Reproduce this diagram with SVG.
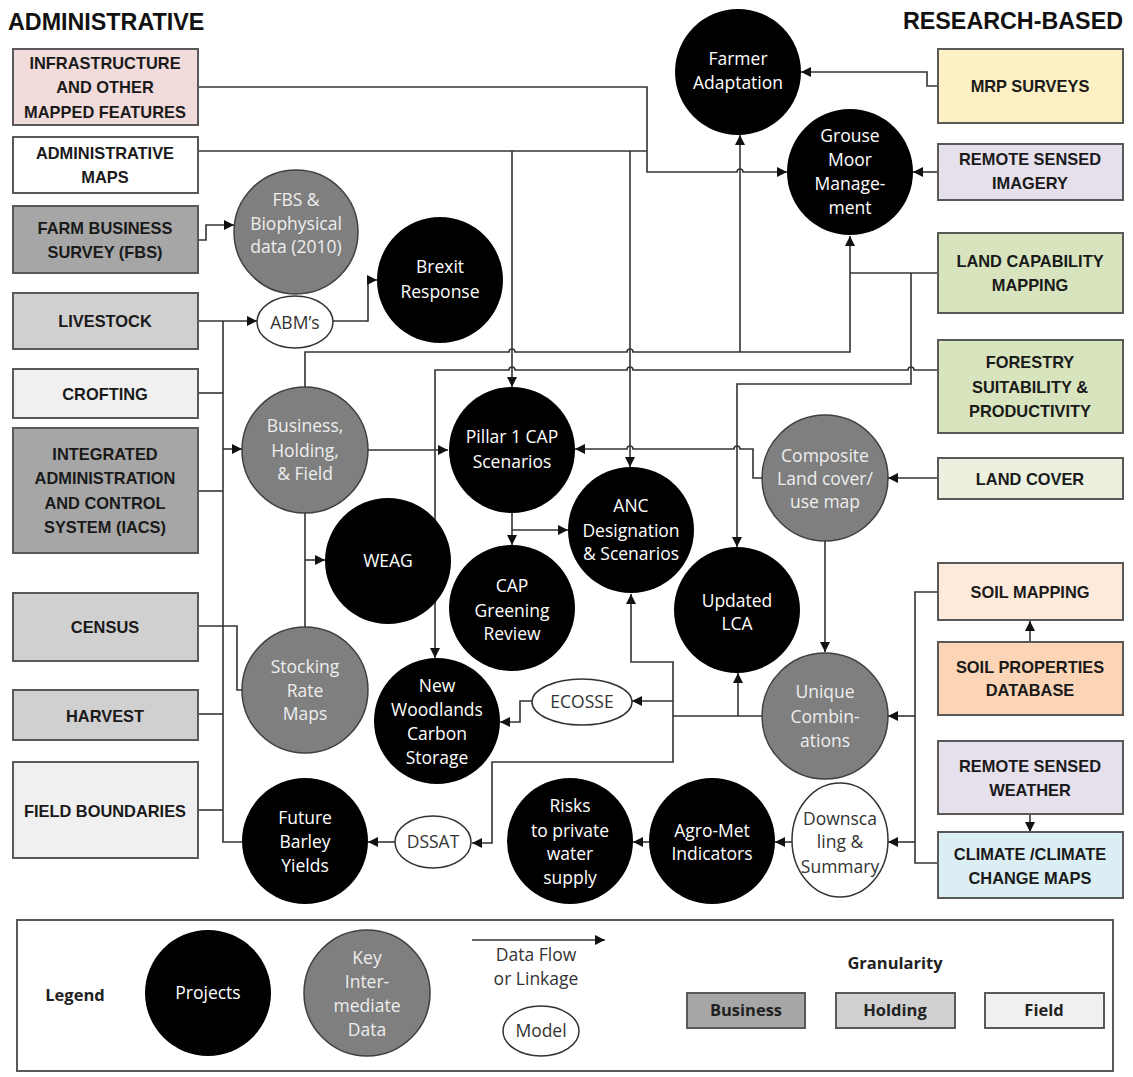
<svg xmlns="http://www.w3.org/2000/svg" width="1133" height="1077" viewBox="0 0 1133 1077">
<defs>
<style>
.bx{stroke:#595959;stroke-width:2}
.bt{font-family:"Liberation Sans",Arial,sans-serif;font-weight:bold;font-size:16.4px;fill:#1a1a1a;text-anchor:middle}
.hd{font-family:"Liberation Sans",Arial,sans-serif;font-weight:bold;font-size:23.3px;fill:#111}
.ct{font-family:"Open Sans",sans-serif;font-size:17.5px;fill:#fff;text-anchor:middle}
.gt{font-family:"Open Sans",sans-serif;font-size:17.5px;fill:#eeeeee;text-anchor:middle}
.mt{font-family:"Open Sans",sans-serif;font-size:17.5px;fill:#333;text-anchor:middle}
.lt{font-family:"Open Sans",sans-serif;font-size:16.5px;font-weight:bold;fill:#222;text-anchor:middle}
.proj{fill:#000}
.key{fill:#7f7f7f;stroke:#3f3f3f;stroke-width:1.5}
.model{fill:#fff;stroke:#333;stroke-width:1.5}
.ln{fill:none;stroke:#333;stroke-width:1.6}
.ar{marker-end:url(#ah)}
</style>
<marker id="ah" viewBox="0 0 10 10" refX="10" refY="5" markerWidth="10" markerHeight="10" orient="auto" markerUnits="userSpaceOnUse"><path d="M0,0 L10,5 L0,10 z" fill="#111"/></marker>
</defs>
<rect width="1133" height="1077" fill="#fff"/>

<text class="hd" x="8" y="30">ADMINISTRATIVE</text>
<text class="hd" x="1123" y="29" text-anchor="end">RESEARCH-BASED</text>

<!-- connectors -->
<g id="connectors">
<path class="ln ar" d="M198,87 H647 V172 H737 a3,3 0 0 1 6,0 H787"/>
<path class="ln" d="M198,151 H647"/>
<path class="ln ar" d="M512,151 V387"/>
<path class="ln ar" d="M630,151 V467"/>
<path class="ln ar" d="M198,240 H206 V225 H234"/>
<path class="ln ar" d="M198,321 H257"/>
<path class="ln" d="M223,321 V842 H242"/>
<path class="ln" d="M198,393 H223"/>
<path class="ln" d="M198,491 H223"/>
<path class="ln" d="M198,626 H237 V690 H243"/>
<path class="ln" d="M198,714 H223"/>
<path class="ln" d="M198,810 H223"/>
<path class="ln ar" d="M223,449 H242"/>
<path class="ln ar" d="M333,321 H368 V280 H377"/>
<path class="ln ar" d="M305,387 V352 H509 a3,3 0 0 1 6,0 H627 a3,3 0 0 1 6,0 H850 V236"/>
<path class="ln ar" d="M740,352 V135"/>
<path class="ln" d="M938,273 H850"/>
<path class="ln ar" d="M911,273 V384 H737 V547"/>
<path class="ln ar" d="M938,370 H914 a3,3 0 0 0 -6,0 H633 a3,3 0 0 0 -6,0 H515 a3,3 0 0 0 -6,0 H435 V658"/>
<path class="ln ar" d="M368,450 H448"/>
<path class="ln" d="M305,513 V627"/>
<path class="ln ar" d="M305,560 H325"/>
<path class="ln ar" d="M512,513 V545"/>
<path class="ln ar" d="M512,530 H568"/>
<path class="ln ar" d="M762,478 H753 V449 H740 a3,3 0 0 0 -6,0 H633 a3,3 0 0 0 -6,0 H575"/>
<path class="ln ar" d="M938,478 H888"/>
<path class="ln ar" d="M825,541 V652"/>
<path class="ln" d="M938,592 H915 V863 H938"/>
<path class="ln ar" d="M915,716 H888"/>
<path class="ln ar" d="M915,842 H888"/>
<path class="ln ar" d="M1030,642 V621"/>
<path class="ln ar" d="M1030,814 V832"/>
<path class="ln" d="M762,716 H673"/>
<path class="ln ar" d="M738,716 V673"/>
<path class="ln ar" d="M673,716 V662 H631 V594"/>
<path class="ln ar" d="M673,701 H632"/>
<path class="ln ar" d="M673,716 V762 H492 V843 H472"/>
<path class="ln ar" d="M532,701 H520 V722 H500"/>
<path class="ln ar" d="M395,842 H368"/>
<path class="ln ar" d="M792,842 H775"/>
<path class="ln ar" d="M649,842 H633"/>
<path class="ln ar" d="M938,86 H927 V72 H801"/>
<path class="ln ar" d="M938,172 H913"/>
</g>

<!-- left boxes -->
<g id="n-infra"><rect class="bx" x="13" y="49" width="185" height="76" fill="#f2dcdb"/><text class="bt" x="105" y="69">INFRASTRUCTURE</text><text class="bt" x="105" y="93">AND OTHER</text><text class="bt" x="105" y="118">MAPPED FEATURES</text></g>
<g id="n-adminmaps"><rect class="bx" x="13" y="137" width="185" height="56" fill="#ffffff"/><text class="bt" x="105" y="159">ADMINISTRATIVE</text><text class="bt" x="105" y="183">MAPS</text></g>
<g id="n-fbs"><rect class="bx" x="13" y="206" width="185" height="67" fill="#a6a6a6"/><text class="bt" x="105" y="234">FARM BUSINESS</text><text class="bt" x="105" y="258">SURVEY (FBS)</text></g>
<g id="n-livestock"><rect class="bx" x="13" y="293" width="185" height="56" fill="#d0d0d0"/><text class="bt" x="105" y="327">LIVESTOCK</text></g>
<g id="n-crofting"><rect class="bx" x="13" y="369" width="185" height="49" fill="#f0f0f0"/><text class="bt" x="105" y="400">CROFTING</text></g>
<g id="n-iacs"><rect class="bx" x="13" y="428" width="185" height="125" fill="#a6a6a6"/><text class="bt" x="105" y="460">INTEGRATED</text><text class="bt" x="105" y="484">ADMINISTRATION</text><text class="bt" x="105" y="509">AND CONTROL</text><text class="bt" x="105" y="533">SYSTEM (IACS)</text></g>
<g id="n-census"><rect class="bx" x="13" y="593" width="185" height="68" fill="#d0d0d0"/><text class="bt" x="105" y="633">CENSUS</text></g>
<g id="n-harvest"><rect class="bx" x="13" y="690" width="185" height="50" fill="#d0d0d0"/><text class="bt" x="105" y="722">HARVEST</text></g>
<g id="n-fieldb"><rect class="bx" x="13" y="762" width="185" height="96" fill="#f0f0f0"/><text class="bt" x="105" y="817">FIELD BOUNDARIES</text></g>

<!-- right boxes -->
<g id="n-mrp"><rect class="bx" x="938" y="49" width="185" height="74" fill="#fdf0c4"/><text class="bt" x="1030" y="92">MRP SURVEYS</text></g>
<g id="n-rsi"><rect class="bx" x="938" y="144" width="185" height="56" fill="#e5e0ec"/><text class="bt" x="1030" y="165">REMOTE SENSED</text><text class="bt" x="1030" y="189">IMAGERY</text></g>
<g id="n-landcap"><rect class="bx" x="938" y="233" width="185" height="80" fill="#d7e4bd"/><text class="bt" x="1030" y="267">LAND CAPABILITY</text><text class="bt" x="1030" y="291">MAPPING</text></g>
<g id="n-forestry"><rect class="bx" x="938" y="340" width="185" height="93" fill="#d7e4bd"/><text class="bt" x="1030" y="368">FORESTRY</text><text class="bt" x="1030" y="393">SUITABILITY &amp;</text><text class="bt" x="1030" y="417">PRODUCTIVITY</text></g>
<g id="n-landcover"><rect class="bx" x="938" y="458" width="185" height="41" fill="#ebf1de"/><text class="bt" x="1030" y="485">LAND COVER</text></g>
<g id="n-soilmap"><rect class="bx" x="938" y="563" width="185" height="57" fill="#fdeada"/><text class="bt" x="1030" y="598">SOIL MAPPING</text></g>
<g id="n-soilprop"><rect class="bx" x="938" y="642" width="185" height="73" fill="#fbd5b5"/><text class="bt" x="1030" y="673">SOIL PROPERTIES</text><text class="bt" x="1030" y="696">DATABASE</text></g>
<g id="n-rsw"><rect class="bx" x="938" y="741" width="185" height="73" fill="#e5e0ec"/><text class="bt" x="1030" y="772">REMOTE SENSED</text><text class="bt" x="1030" y="796">WEATHER</text></g>
<g id="n-climate"><rect class="bx" x="938" y="832" width="185" height="66" fill="#dbeef4"/><text class="bt" x="1030" y="860">CLIMATE /CLIMATE</text><text class="bt" x="1030" y="884">CHANGE MAPS</text></g>

<!-- circles -->
<g id="n-farmer"><circle class="proj" cx="738" cy="72" r="63"/><text class="ct" x="738" y="65">Farmer</text><text class="ct" x="738" y="89">Adaptation</text></g>
<g id="n-grouse"><circle class="proj" cx="850" cy="172" r="63"/><text class="ct" x="850" y="142">Grouse</text><text class="ct" x="850" y="166">Moor</text><text class="ct" x="850" y="190">Manage-</text><text class="ct" x="850" y="214">ment</text></g>
<g id="n-fbsdata"><circle class="key" cx="296" cy="232" r="62"/><text class="gt" x="296" y="206">FBS &amp;</text><text class="gt" x="296" y="230">Biophysical</text><text class="gt" x="296" y="253">data (2010)</text></g>
<g id="n-brexit"><circle class="proj" cx="440" cy="280" r="63"/><text class="ct" x="440" y="273">Brexit</text><text class="ct" x="440" y="298">Response</text></g>
<g id="n-abm"><ellipse class="model" cx="295" cy="322" rx="38" ry="26"/><text class="mt" x="295" y="329">ABM’s</text></g>
<g id="n-bhf"><circle class="key" cx="305" cy="450" r="63"/><text class="gt" x="305" y="432">Business,</text><text class="gt" x="305" y="457">Holding,</text><text class="gt" x="305" y="480">&amp; Field</text></g>
<g id="n-weag"><circle class="proj" cx="388" cy="561" r="63"/><text class="ct" x="388" y="567">WEAG</text></g>
<g id="n-stocking"><circle class="key" cx="305" cy="690" r="63"/><text class="gt" x="305" y="673">Stocking</text><text class="gt" x="305" y="697">Rate</text><text class="gt" x="305" y="720">Maps</text></g>
<g id="n-pillar"><circle class="proj" cx="512" cy="450" r="63"/><text class="ct" x="512" y="443">Pillar 1 CAP</text><text class="ct" x="512" y="468">Scenarios</text></g>
<g id="n-anc"><circle class="proj" cx="631" cy="530" r="63"/><text class="ct" x="631" y="512">ANC</text><text class="ct" x="631" y="537">Designation</text><text class="ct" x="631" y="560">&amp; Scenarios</text></g>
<g id="n-greening"><circle class="proj" cx="512" cy="608" r="63"/><text class="ct" x="512" y="592">CAP</text><text class="ct" x="512" y="617">Greening</text><text class="ct" x="512" y="640">Review</text></g>
<g id="n-lca"><circle class="proj" cx="737" cy="610" r="63"/><text class="ct" x="737" y="607">Updated</text><text class="ct" x="737" y="630">LCA</text></g>
<g id="n-composite"><circle class="key" cx="825" cy="478" r="63"/><text class="gt" x="825" y="462">Composite</text><text class="gt" x="825" y="485">Land cover/</text><text class="gt" x="825" y="508">use map</text></g>
<g id="n-unique"><circle class="key" cx="825" cy="716" r="63"/><text class="gt" x="825" y="698">Unique</text><text class="gt" x="825" y="723">Combin-</text><text class="gt" x="825" y="747">ations</text></g>
<g id="n-woodlands"><circle class="proj" cx="437" cy="721" r="63"/><text class="ct" x="437" y="692">New</text><text class="ct" x="437" y="716">Woodlands</text><text class="ct" x="437" y="740">Carbon</text><text class="ct" x="437" y="764">Storage</text></g>
<g id="n-ecosse"><ellipse class="model" cx="582" cy="702" rx="50" ry="23"/><text class="mt" x="582" y="708">ECOSSE</text></g>
<g id="n-barley"><circle class="proj" cx="305" cy="841" r="63"/><text class="ct" x="305" y="824">Future</text><text class="ct" x="305" y="848">Barley</text><text class="ct" x="305" y="872">Yields</text></g>
<g id="n-dssat"><ellipse class="model" cx="433" cy="842" rx="38" ry="26"/><text class="mt" x="433" y="848">DSSAT</text></g>
<g id="n-risks"><circle class="proj" cx="570" cy="841" r="63"/><text class="ct" x="570" y="812">Risks</text><text class="ct" x="570" y="837">to private</text><text class="ct" x="570" y="860">water</text><text class="ct" x="570" y="884">supply</text></g>
<g id="n-agromet"><circle class="proj" cx="712" cy="841" r="63"/><text class="ct" x="712" y="837">Agro-Met</text><text class="ct" x="712" y="860">Indicators</text></g>
<g id="n-downscaling"><ellipse class="model" cx="840" cy="840" rx="48" ry="57"/><text class="mt" x="840" y="825">Downsca</text><text class="mt" x="840" y="848">ling &amp;</text><text class="mt" x="840" y="873">Summary</text></g>

<!-- legend -->
<g id="legend">
<rect x="17" y="920" width="1096" height="151" fill="#fff" stroke="#595959" stroke-width="2"/>
<text class="lt" x="75" y="1001">Legend</text>
<circle class="proj" cx="208" cy="993" r="63"/><text class="ct" x="208" y="999">Projects</text>
<circle class="key" cx="367" cy="993" r="63"/><text class="gt" x="367" y="964">Key</text><text class="gt" x="367" y="988">Inter-</text><text class="gt" x="367" y="1012">mediate</text><text class="gt" x="367" y="1036">Data</text>
<path class="ln ar" d="M472,940 H605"/>
<text class="mt" x="536" y="961">Data Flow</text><text class="mt" x="536" y="985">or Linkage</text>
<ellipse class="model" cx="541" cy="1031" rx="38" ry="25"/><text class="mt" x="541" y="1037">Model</text>
<text class="lt" x="895" y="969">Granularity</text>
<rect class="bx" x="687" y="993" width="118" height="35" fill="#a6a6a6"/><text class="lt" x="746" y="1016">Business</text>
<rect class="bx" x="836" y="993" width="119" height="35" fill="#d0d0d0"/><text class="lt" x="895" y="1016">Holding</text>
<rect class="bx" x="985" y="993" width="119" height="35" fill="#f0f0f0"/><text class="lt" x="1044" y="1016">Field</text>
</g>
</svg>
